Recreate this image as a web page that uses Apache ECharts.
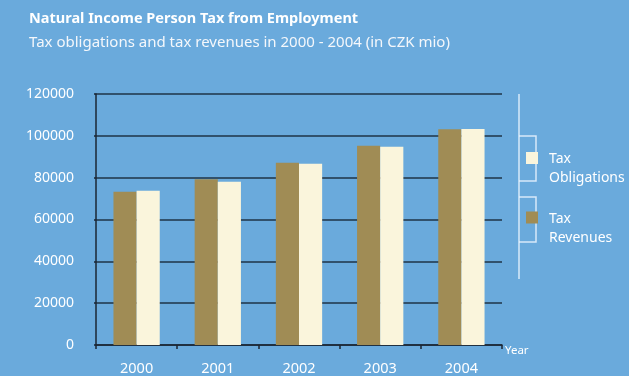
<!DOCTYPE html>
<html>
<head>
<meta charset="utf-8">
<script src="https://cdn.jsdelivr.net/npm/echarts@6/dist/echarts.min.js"></script>
<style>
  html, body { margin: 0; padding: 0; background: #6aaadc; }
  #chart { width: 629px; height: 376px; }
</style>
</head>
<body>
<div id="chart"></div>
<script>
// Natural person income tax from employment, CZK mio
const years = ['2000', '2001', '2002', '2003', '2004'];
const taxRevenues = [73300, 79200, 87100, 95200, 103200];
const taxObligations = [73800, 78100, 86700, 94800, 103300];
const yTicks = { min: 0, max: 120000, interval: 20000 };

const FONT = '"Noto Sans", "Open Sans", sans-serif';
const chart = echarts.init(document.getElementById('chart'), null, { renderer: 'canvas' });

const legendText = {
  'Tax Obligations': '{t|Tax}\n{t|Obligations}',
  'Tax Revenues': '{t|Tax}\n{t|Revenues}'
};

chart.setOption({
  backgroundColor: '#6aaadc',
  animation: false,
  title: [
    {
      text: 'Natural Income Person Tax from Employment',
      left: 24, top: 6,
      textStyle: { color: '#ffffff', fontFamily: FONT, fontSize: 14.5, fontWeight: 'bold' }
    },
    {
      text: 'Tax obligations and tax revenues in 2000 - 2004 (in CZK mio)',
      left: 24, top: 30,
      textStyle: { color: '#f4f7fb', fontFamily: FONT, fontSize: 15, fontWeight: 'normal' }
    }
  ],
  grid: { left: 96, right: 127, top: 94, bottom: 30, containLabel: false },
  legend: {
    orient: 'vertical',
    left: 521, top: 147,
    itemWidth: 12, itemHeight: 12,
    itemGap: 26,
    icon: 'rect',
    data: ['Tax Obligations', 'Tax Revenues'],
    formatter: name => legendText[name],
    textStyle: {
      padding: [22, 0, 0, 6],
      rich: { t: { color: '#ffffff', fontFamily: FONT, fontSize: 14, lineHeight: 19 } }
    }
  },
  xAxis: {
    type: 'category',
    data: years,
    name: 'Year',
    nameLocation: 'end',
    nameGap: 3,
    nameTextStyle: { color: '#ffffff', fontFamily: FONT, fontSize: 11.5, verticalAlign: 'top', padding: [0, 0, 0, 0] },
    axisLine: { lineStyle: { color: '#1b2633', width: 1.5 } },
    axisTick: { show: true, length: 4, lineStyle: { color: '#1b2633', width: 1.5 } },
    axisLabel: { color: '#ffffff', fontFamily: FONT, fontSize: 14.5, margin: 16 }
  },
  yAxis: {
    type: 'value',
    min: yTicks.min, max: yTicks.max, interval: yTicks.interval,
    axisLine: { show: true, lineStyle: { color: '#1b2633', width: 1.5 } },
    axisTick: { show: true, length: 2, lineStyle: { color: '#1b2633', width: 1.5 } },
    axisLabel: { color: '#ffffff', fontFamily: FONT, fontSize: 14, margin: 22, formatter: v => String(v) },
    splitLine: { show: true, lineStyle: { color: '#1f3347', width: 1.5 } }
  },
  series: [
    {
      name: 'Tax Revenues',
      type: 'bar',
      data: taxRevenues,
      barGap: '0%',
      barCategoryGap: '43%',
      itemStyle: { color: '#a08c55' }
    },
    {
      name: 'Tax Obligations',
      type: 'bar',
      data: taxObligations,
      barGap: '0%',
      barCategoryGap: '43%',
      itemStyle: { color: '#faf5dc' }
    }
  ],
  graphic: [
    // legend frame: vertical rule and two brackets
    { type: 'line', silent: true, shape: { x1: 519, y1: 94, x2: 519, y2: 279 },
      style: { stroke: 'rgba(235,245,255,0.85)', lineWidth: 1.5 } },
    { type: 'polyline', silent: true, shape: { points: [[519, 136], [536, 136], [536, 181], [519, 181]] },
      style: { stroke: 'rgba(235,245,255,0.85)', lineWidth: 1.5, fill: null } },
    { type: 'polyline', silent: true, shape: { points: [[519, 197], [536, 197], [536, 242], [519, 242]] },
      style: { stroke: 'rgba(235,245,255,0.85)', lineWidth: 1.5, fill: null } }
  ]
});
</script>
</body>
</html>
